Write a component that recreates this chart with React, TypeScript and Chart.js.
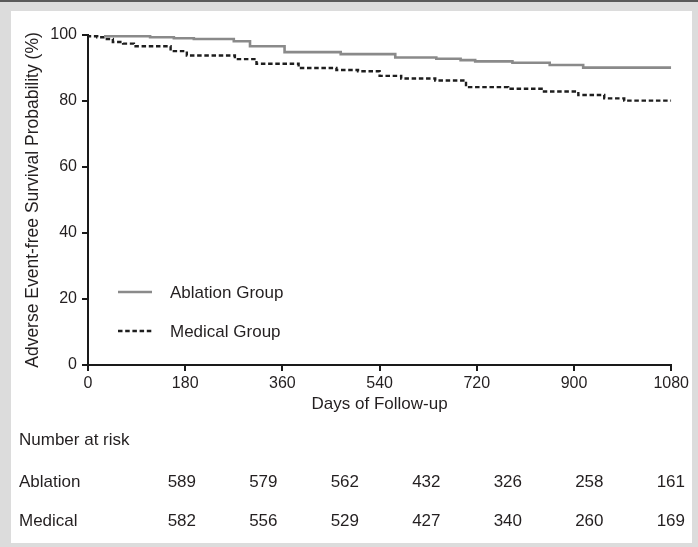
import { useEffect, useRef } from 'react';
import { Chart, registerables } from 'chart.js';

Chart.register(...registerables);

// ---- data ----
const ablationDays = [32, 115, 159, 196, 270, 300, 364, 468, 569, 645, 690, 717, 786, 855, 917, 1010, 1080];
const ablationSurv = [100, 99.6, 99.3, 99.0, 98.8, 98.1, 96.6, 94.8, 94.2, 93.2, 92.8, 92.4, 92.0, 91.6, 90.9, 90.1, 90.1];

const medicalDays = [0, 17, 31, 46, 65, 85, 153, 183, 272, 312, 390, 460, 500, 540, 580, 643, 700, 778, 840, 908, 956, 993, 1055, 1080];
const medicalSurv = [100, 99.6, 99.3, 98.8, 97.9, 97.4, 96.6, 95.1, 93.8, 92.7, 91.3, 90.0, 89.4, 89.0, 87.6, 86.8, 86.2, 84.2, 83.7, 82.9, 81.8, 80.8, 80.1, 80.1];

const xTicks = [0, 180, 360, 540, 720, 900, 1080];
const yTicks = [0, 20, 40, 60, 80, 100];

const seriesLabels = ['Ablation Group', 'Medical Group'];
const riskRowLabels = ['Ablation', 'Medical'];
const riskAblation = [589, 579, 562, 432, 326, 258, 161];
const riskMedical = [582, 556, 529, 427, 340, 260, 169];

const FONT = "'Liberation Sans', Arial, Helvetica, sans-serif";
const TEXT = '#231f20';
const GRAY = '#8a8a8a';
const W = 681;
const H = 532;

const overlayPlugin = {
  id: 'overlay',
  afterDraw(chart: any) {
    const ctx = chart.ctx as CanvasRenderingContext2D;
    const ca = chart.chartArea;
    ctx.save();
    // legend inside chart area
    const lx0 = ca.left + 30;
    const lx1 = ca.left + 64;
    const tx = ca.left + 82;
    const rows = [ca.bottom - 73, ca.bottom - 34];
    chart.data.datasets.forEach((ds: any, i: number) => {
      const y = rows[i];
      ctx.beginPath();
      ctx.strokeStyle = ds.borderColor;
      ctx.lineWidth = ds.borderWidth;
      ctx.setLineDash(ds.borderDash || []);
      ctx.moveTo(lx0, y);
      ctx.lineTo(lx1, y);
      ctx.stroke();
      ctx.setLineDash([]);
      ctx.fillStyle = TEXT;
      ctx.font = `17px ${FONT}`;
      ctx.textAlign = 'left';
      ctx.textBaseline = 'middle';
      ctx.fillText(ds.label, tx, y + 1);
    });

    // number at risk table
    ctx.fillStyle = TEXT;
    ctx.font = `17px ${FONT}`;
    ctx.textBaseline = 'middle';
    ctx.textAlign = 'left';
    ctx.fillText('Number at risk', 8, 429);
    const rowY = [471, 510];
    const rowsData = [riskAblation, riskMedical];
    riskRowLabels.forEach((lab, r) => {
      ctx.textAlign = 'left';
      ctx.fillText(lab, 8, rowY[r]);
      ctx.textAlign = 'right';
      rowsData[r].forEach((v, c) => {
        const xr = 674 - (rowsData[r].length - 1 - c) * 81.5;
        ctx.fillText(String(v), xr, rowY[r]);
      });
    });
    ctx.restore();
  },
};

export default function App() {
  const ref = useRef<HTMLCanvasElement | null>(null);

  useEffect(() => {
    if (!ref.current) return;
    const chart = new Chart(ref.current, {
      type: 'line',
      data: {
        datasets: [
          {
            label: seriesLabels[0],
            data: ablationDays.map((d, i) => ({ x: d, y: ablationSurv[i] })),
            borderColor: GRAY,
            borderWidth: 2.6,
            stepped: 'after',
            pointRadius: 0,
            fill: false,
          },
          {
            label: seriesLabels[1],
            data: medicalDays.map((d, i) => ({ x: d, y: medicalSurv[i] })),
            borderColor: '#1e1e1e',
            borderWidth: 2.4,
            borderDash: [4.5, 2.7],
            stepped: 'after',
            pointRadius: 0,
            fill: false,
          },
        ],
      },
      options: {
        animation: false,
        responsive: false,
        devicePixelRatio: 1,
        layout: { padding: { left: 0, right: 20, top: 24, bottom: 118 } },
        plugins: {
          legend: { display: false },
          tooltip: { enabled: false },
        },
        scales: {
          x: {
            type: 'linear',
            min: 0,
            max: 1080,
            afterBuildTicks: (s: any) => {
              s.ticks = xTicks.map((v) => ({ value: v }));
            },
            afterFit: (s: any) => {
              s.height = 60;
            },
            grid: {
              drawOnChartArea: false,
              drawTicks: true,
              tickLength: 6,
              color: '#1a1a1a',
              lineWidth: 2,
            },
            border: { display: true, color: '#1a1a1a', width: 2 },
            ticks: {
              color: TEXT,
              font: { family: FONT, size: 16 },
              padding: 3,
              maxRotation: 0,
              callback: (v: any) => String(v),
            },
            title: {
              display: true,
              text: 'Days of Follow-up',
              color: TEXT,
              font: { family: FONT, size: 17 },
              padding: { top: 0, bottom: 10 },
            },
          },
          y: {
            type: 'linear',
            min: 0,
            max: 100,
            afterBuildTicks: (s: any) => {
              s.ticks = yTicks.map((v) => ({ value: v }));
            },
            afterFit: (s: any) => {
              s.width = 77;
            },
            grid: {
              drawOnChartArea: false,
              drawTicks: true,
              tickLength: 6,
              color: '#1a1a1a',
              lineWidth: 2,
            },
            border: { display: true, color: '#1a1a1a', width: 2 },
            ticks: {
              color: TEXT,
              font: { family: FONT, size: 16 },
              padding: 5,
              callback: (v: any) => String(v),
            },
            title: {
              display: true,
              text: 'Adverse Event-free Survival Probability (%)',
              color: TEXT,
              font: { family: FONT, size: 17.5 },
              padding: { top: 12, bottom: 0 },
            },
          },
        },
      },
      plugins: [overlayPlugin],
    });
    return () => chart.destroy();
  }, []);

  return (
    <div
      style={{
        position: 'fixed',
        left: 0,
        top: 0,
        width: 698,
        height: 547,
        background: '#dcdcdc',
        boxSizing: 'border-box',
        borderTop: '2px solid #5a5a5a',
      }}
    >
      <div
        style={{
          position: 'absolute',
          left: 11,
          top: 9,
          width: W,
          height: H,
          background: '#ffffff',
        }}
      >
        <canvas ref={ref} width={W} height={H} style={{ display: 'block', width: W, height: H }} />
      </div>
    </div>
  );
}
